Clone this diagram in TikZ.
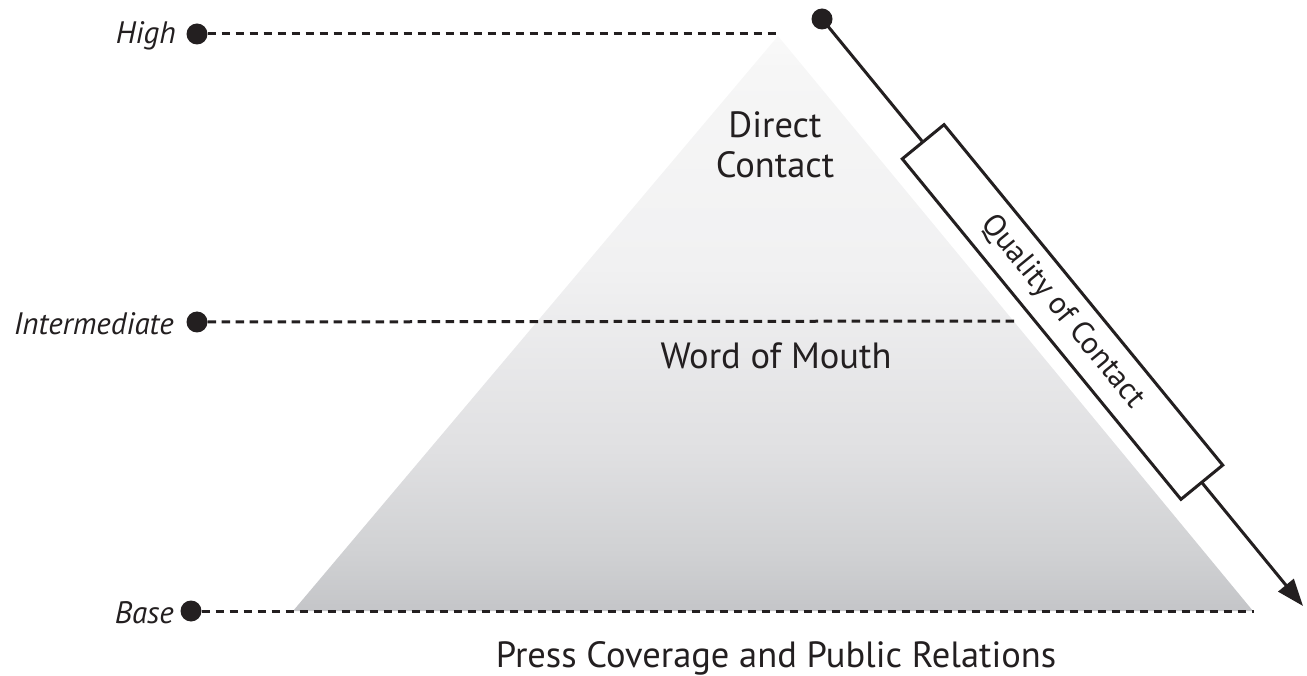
\documentclass[tikz,border=0pt]{standalone}
\usepackage{fontspec}
\setmainfont{PT Sans}
\usetikzlibrary{arrows.meta}
\definecolor{ink}{HTML}{231F20}
\definecolor{g0}{HTML}{C4C5C8}
\definecolor{g1}{HTML}{D0D1D3}
\definecolor{g2}{HTML}{E0E0E2}
\definecolor{g3}{HTML}{F1F1F2}
\definecolor{g4}{HTML}{F6F6F6}
\definecolor{g5}{HTML}{F9F9F9}
\pgfdeclareverticalshading{pyrshade}{100bp}{color(0bp)=(g0); color(25bp)=(g0); color(30bp)=(g1); color(39bp)=(g2); color(55bp)=(g3); color(72bp)=(g4); color(75bp)=(g5); color(100bp)=(g5)}
\begin{document}
\begin{tikzpicture}[x=1pt,y=-1pt,
  dot/.style={circle,fill=ink,inner sep=0pt,minimum size=21pt},
  levelline/.style={draw=ink,line width=3pt,dash pattern=on 8.5pt off 5.5pt},
  lvl/.style={font=\fontsize{31}{36}\selectfont\itshape,text=ink,anchor=east,inner sep=0pt},
  main/.style={font=\fontsize{36.5}{40}\selectfont,text=ink,align=center,inner sep=0pt},
  qbox/.style={draw=ink,line width=3pt,fill=white,minimum width=440pt,minimum height=54pt,inner sep=0pt,rotate=-50.7,font=\fontsize{31}{36}\selectfont,text=ink}
]
\useasboundingbox (0,0) rectangle (1307,676);
% pyramid
\coordinate (apex) at (778,36);
\coordinate (bl) at (293,611);
\coordinate (br) at (1253,611);
\shade[shading=pyrshade] (apex) -- (bl) -- (br) -- cycle;
% level dots
\node[dot] (high) at (197,34) {};
\node[dot] (inter) at (197,322) {};
\node[dot] (base) at (191,611) {};
\coordinate (highend) at (780,34);
\coordinate (interend) at (1019,321);
\coordinate (baseend) at (1254,611);
\draw[levelline] (high.east) -- (highend);
\draw[levelline] (inter.east) -- (interend);
\draw[levelline] (base.east) -- (baseend);
\node[lvl] (highlbl) at (176,36) {High};
\node[lvl] (interlbl) at (174,324) {Intermediate};
\node[lvl] (baselbl) at (174,613) {Base};
% arrow
\node[dot] (qstart) at (822,19) {};
\coordinate (qend) at (1303,606);
\draw[ink,line width=3pt,-{Triangle[length=27pt,width=22pt,angle'=40]}] (qstart.center) -- (qend);
\node[qbox] (qual) at (1062.5,312) {Quality of Contact};
% texts
\node[main] (direct) at (775,145) {Direct\\Contact};
\node[main] (wom) at (776,356) {Word of Mouth};
\node[main] (press) at (776,658) {Press Coverage and Public Relations};
\end{tikzpicture}
\end{document}
